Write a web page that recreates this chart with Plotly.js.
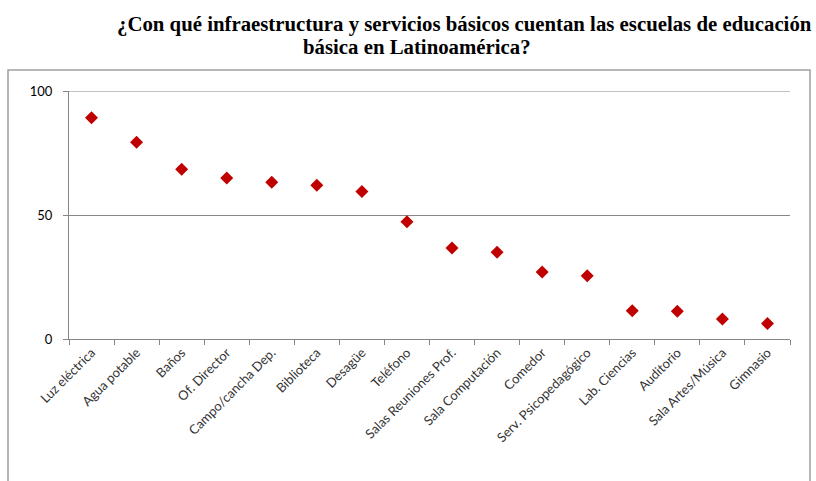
<!DOCTYPE html>
<html>
<head>
<meta charset="utf-8">
<script src="https://cdn.plot.ly/plotly-3.0.1.min.js"></script>
<style>html,body{margin:0;padding:0;background:#fff;}#chart{width:816px;height:481px;}</style>
</head>
<body>
<div id="chart"></div>
<script>
const categories = ["Luz eléctrica","Agua potable","Baños","Of. Director","Campo/cancha Dep.","Biblioteca","Desagüe","Teléfono","Salas Reuniones Prof.","Sala Computación","Comedor","Serv. Psicopedagógico","Lab. Ciencias","Auditorio","Sala Artes/Música","Gimnasio"];
const values = [89.2, 79.3, 68.4, 64.9, 63.2, 62.0, 59.5, 47.3, 36.7, 35.0, 27.0, 25.5, 11.4, 11.2, 8.1, 6.2];
const yTicks = [0, 50, 100];
const titleLine1 = "¿Con qué infraestructura y servicios básicos cuentan las escuelas de educación";
const titleLine2 = "básica en Latinoamérica?";

const W = 816, H = 481;
const L = 69, R = 790, T = 91, B = 339;
const px = x => (x - L) / (R - L);
const py = y => (B - y) / (B - T);

const trace = {
  x: categories, y: values, type: 'scatter', mode: 'markers',
  marker: {symbol: 'diamond', color: '#C00000', size: 10},
  hoverinfo: 'x+y', cliponaxis: false
};

const layout = {
  width: W, height: H,
  margin: {l: L, r: W - R, t: T, b: H - B},
  paper_bgcolor: '#fff', plot_bgcolor: '#fff',
  showlegend: false,
  xaxis: {
    type: 'category', range: [-0.5, categories.length - 0.5],
    showgrid: false, zeroline: false,
    showline: true, linecolor: '#868686', linewidth: 1,
    ticks: 'outside', tickson: 'boundaries', ticklen: 5, tickcolor: '#868686',
    tickangle: -45,
    tickfont: {family: 'Lato, "Open Sans", sans-serif', size: 13, color: '#333'}
  },
  yaxis: {
    range: [0, 100], tickvals: yTicks, ticktext: yTicks.map(String),
    showgrid: true, gridcolor: '#868686', gridwidth: 1,
    zeroline: false,
    showline: true, linecolor: '#868686', linewidth: 1,
    ticks: 'outside', ticklen: 5, tickcolor: '#868686',
    ticklabelstandoff: 8,
    tickfont: {family: 'Lato, "Open Sans", sans-serif', size: 13, color: '#000'}
  },
  shapes: [
    {type: 'rect', xref: 'paper', yref: 'paper',
     x0: px(8), x1: px(810), y0: py(490), y1: py(70),
     line: {color: '#a0a0a0', width: 1.5}, fillcolor: 'rgba(0,0,0,0)', layer: 'below'},
    {type: 'line', xref: 'paper', yref: 'y', x0: 0, x1: 1, y0: yTicks[2], y1: yTicks[2],
     line: {color: '#868686', width: 1}, layer: 'below'}
  ],
  annotations: [
    {text: '<b>' + titleLine1 + '</b>', xref: 'paper', yref: 'paper', x: px(115), y: py(24),
     xanchor: 'left', yanchor: 'middle', showarrow: false,
     font: {family: '"Liberation Serif", "Times New Roman", serif', size: 20.8, color: '#000'}},
    {text: '<b>' + titleLine2 + '</b>', xref: 'paper', yref: 'paper', x: px(301), y: py(46),
     xanchor: 'left', yanchor: 'middle', showarrow: false,
     font: {family: '"Liberation Serif", "Times New Roman", serif', size: 20.8, color: '#000'}}
  ]
};

Plotly.newPlot('chart', [trace], layout, {displayModeBar: false, staticPlot: true});
</script>
</body>
</html>
